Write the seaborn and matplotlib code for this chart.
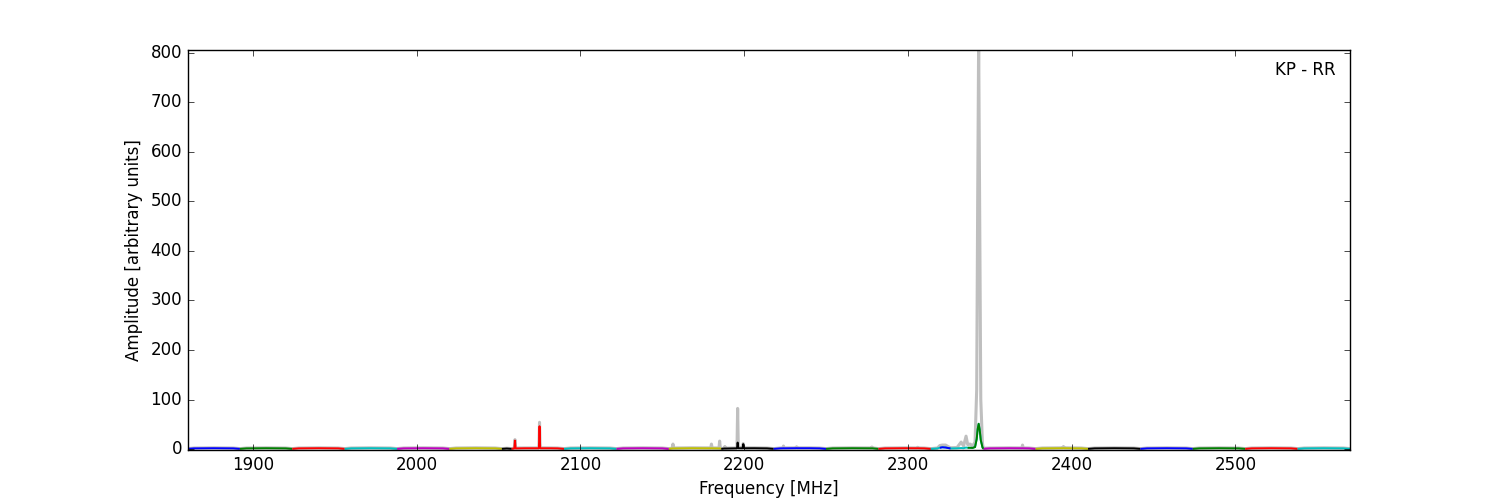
import matplotlib
matplotlib.use("Agg")
import matplotlib.pyplot as plt
import pandas as pd
import seaborn as sns

# -------------------------------------------------------------------------
# Data
# -------------------------------------------------------------------------

FREQ = [
    1860, 1864, 1876, 1888,
    1892, 1896, 1908, 1920,
    1924, 1928, 1940, 1952,
    1956, 1960, 1972, 1984,
    1988, 1992, 2004, 2016,
    2020, 2024, 2036, 2048,
    2052, 2055,
    2058, 2059.6, 2060, 2060.4, 2066, 2074.6, 2075, 2075.4, 2082, 2086,
    2090, 2094, 2106, 2118,
    2122, 2126, 2138, 2150,
    2154, 2156.1, 2156.5, 2156.9, 2168, 2179.6, 2180, 2180.4, 2184.6, 2185, 2185.4,
    2186, 2187.8, 2188.2, 2188.6, 2195.6, 2196, 2196.4, 2199, 2199.4, 2199.8, 2206, 2214,
    2218, 2222, 2223.6, 2224, 2224.4, 2231.6, 2232, 2232.4, 2240, 2246,
    2250, 2254, 2266, 2277.6, 2278, 2278.4,
    2282, 2286, 2298, 2305.6, 2306, 2306.4, 2310,
    2314, 2318, 2319.5, 2321, 2323, 2324.5, 2326, 2330, 2332.5, 2334, 2335.5,
    2336.5, 2338, 2339.5, 2341, 2342, 2342.6, 2343.2, 2343.8, 2344.5, 2345.5,
    2346, 2350, 2362, 2369.6, 2370, 2370.4, 2374,
    2378, 2382, 2394.6, 2395, 2395.4, 2406,
    2410, 2414, 2426, 2438,
    2442, 2446, 2458, 2470,
    2474, 2478, 2490, 2502,
    2506, 2510, 2522, 2534,
    2538, 2542, 2554, 2566, 2570,
]

# averaged amplitude (coloured traces)
MEAN = [
    0.3, 1.3, 1.6, 1.3,
    0.3, 1.3, 1.6, 1.3,
    0.3, 1.3, 1.6, 1.3,
    0.3, 1.3, 1.6, 1.3,
    0.3, 1.3, 1.6, 1.3,
    0.3, 1.3, 1.6, 1.3,
    0.3, 1.0,
    0.3, 1.2, 17, 1.2, 1.5, 1.5, 46, 1.5, 1.5, 1.3,
    0.3, 1.3, 1.6, 1.3,
    0.3, 1.3, 1.6, 1.3,
    0.3, 1.2, 1.3, 1.2, 1.6, 1.4, 1.5, 1.4, 1.2, 1.3, 1.1,
    0.3, 1.0, 1.1, 1.0, 1.4, 13, 1.5, 1.5, 10, 1.5, 1.6, 1.3,
    0.3, 1.3, 1.4, 1.5, 1.4, 1.6, 1.7, 1.6, 1.6, 1.3,
    0.3, 1.3, 1.6, 1.4, 1.5, 1.4,
    0.3, 1.3, 1.6, 1.5, 1.6, 1.5, 1.3,
    0.3, 1.2, 2.5, 3.5, 3.0, 2.0, 1.2, 1.4, 2.0, 1.6, 3.0,
    2.5, 2.5, 2.2, 4, 20, 40, 51, 40, 18, 4,
    0.5, 1.3, 1.6, 1.5, 1.6, 1.5, 1.3,
    0.3, 1.3, 1.6, 1.7, 1.6, 1.3,
    0.3, 1.3, 1.6, 1.3,
    0.3, 1.3, 1.6, 1.3,
    0.3, 1.3, 1.6, 1.3,
    0.3, 1.3, 1.6, 1.3,
    0.3, 1.3, 1.6, 1.3, 0.3,
]

# max-hold amplitude (grey trace)
PEAK = [
    0.8, 2.0, 2.4, 2.0,
    0.8, 2.0, 2.4, 2.0,
    0.8, 2.0, 2.4, 2.0,
    0.8, 2.0, 2.4, 2.0,
    0.8, 2.0, 2.4, 2.0,
    0.8, 2.0, 2.4, 2.0,
    0.8, 1.6,
    0.8, 2.0, 19, 2.0, 2.2, 2.2, 54, 2.4, 2.2, 2.0,
    0.8, 2.0, 2.4, 2.0,
    0.8, 2.0, 2.4, 2.0,
    0.8, 2.0, 10, 2.0, 2.4, 2.2, 10, 2.2, 2.0, 16, 2.0,
    0.8, 1.8, 5, 1.8, 2.2, 82, 4, 2.4, 11, 2.4, 2.4, 2.0,
    0.8, 2.0, 2.2, 6, 2.2, 2.4, 4.5, 2.4, 2.4, 2.0,
    0.8, 2.0, 2.4, 2.2, 4, 2.2,
    0.8, 2.0, 2.4, 2.2, 3.5, 2.2, 2.0,
    0.8, 2.0, 7, 8, 8, 5, 2.5, 3, 14, 6, 26,
    9, 10, 6, 14, 120, 500, 830, 500, 100, 12,
    1.5, 2.0, 2.4, 2.2, 8, 2.2, 2.0,
    0.8, 2.0, 2.4, 5, 2.4, 2.0,
    0.8, 2.0, 2.4, 2.0,
    0.8, 2.0, 2.4, 2.0,
    0.8, 2.0, 2.4, 2.0,
    0.8, 2.0, 2.4, 2.0,
    0.8, 2.0, 2.4, 2.0, 0.8,
]

# sub-bands (IF channels), each drawn in its own colour
BAND_LO = [1860, 1892, 1924, 1956, 1988, 2020, 2052, 2058, 2090, 2122, 2154, 2186,
           2218, 2250, 2282, 2314, 2346, 2378, 2410, 2442, 2474, 2506, 2538,
           2319, 2336]
BAND_HI = [1892, 1924, 1956, 1988, 2020, 2052, 2058, 2090, 2122, 2154, 2186, 2218,
           2250, 2282, 2314, 2346, 2378, 2410, 2442, 2474, 2506, 2538, 2570,
           2326, 2348]
BAND_COLOR = ["b", "g", "r", "c", "m", "y", "k", "r", "c", "m", "y", "k",
              "b", "g", "r", "c", "m", "y", "k", "b", "g", "r", "c",
              "b", "g"]

LABEL = "KP - RR"


def plot_spectrum(fname="out.png"):
    plt.style.use("classic")
    df = pd.DataFrame({"freq": FREQ, "mean": MEAN, "peak": PEAK})

    fig, ax = plt.subplots(figsize=(15, 5), dpi=100)
    fig.patch.set_facecolor("white")

    # grey max-hold underneath
    sns.lineplot(data=df, x="freq", y="peak", color="0.75", lw=2.2,
                 estimator=None, sort=False, ax=ax)

    for lo, hi, col in zip(BAND_LO, BAND_HI, BAND_COLOR):
        seg = df[(df["freq"] >= lo) & (df["freq"] <= hi)]
        sns.lineplot(data=seg, x="freq", y="mean", color=col, lw=1.4,
                     estimator=None, sort=False, ax=ax,
                     solid_capstyle="butt")

    ax.set_xlim(1860, 2570)
    ax.set_ylim(-2, 806)
    ax.set_xticks(range(1900, 2501, 100))
    ax.set_yticks(range(0, 801, 100))
    ax.set_xlabel("Frequency [MHz]")
    ax.set_ylabel("Amplitude [arbitrary units]")
    ax.text(0.988, 0.95, LABEL, transform=ax.transAxes,
            ha="right", va="center", fontsize=12)

    fig.savefig(fname, dpi=100, facecolor="white")
    plt.close(fig)


if __name__ == "__main__":
    plot_spectrum()
